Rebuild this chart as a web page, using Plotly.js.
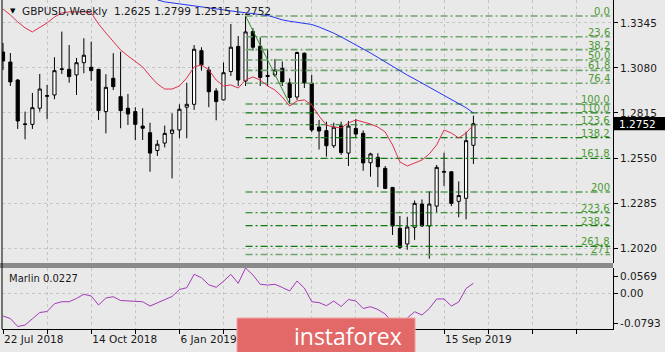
<!DOCTYPE html>
<html><head><meta charset="utf-8">
<script src="https://cdn.plot.ly/plotly-3.0.1.min.js"></script>
<style>html,body{margin:0;padding:0;background:#e9e9e9;overflow:hidden}#chart{width:665px;height:352px}</style>
</head><body><div id="chart"></div>
<script>
// ---------- data ----------
const symbolTitle = "GBPUSD,Weekly";
const open  = [1.3174,1.3115,1.3009,1.2747,1.2748,1.2843,1.2913,1.2921,1.3071,1.3072,1.3039,1.3111,1.3084,1.3072,1.2823,1.3019,1.2911,1.2843,1.2823,1.2738,1.2699,1.2594,1.2638,1.2695,1.2715,1.2849,1.2866,1.3182,1.3068,1.2945,1.2892,1.3059,1.3207,1.3003,1.3294,1.3208,1.3036,1.3039,1.3078,1.2992,1.2909,1.3167,1.2990,1.2732,1.2711,1.2622,1.2739,1.2579,1.2724,1.2695,1.2522,1.2554,1.2489,1.2377,1.2136,1.2044,1.2142,1.2279,1.2150,1.2267,1.2471,1.2469,1.2295,1.2313,1.2625];
const high  = [1.3227,1.3168,1.3015,1.2823,1.2933,1.3045,1.2980,1.3143,1.3294,1.3215,1.3139,1.3255,1.3235,1.3074,1.3043,1.3167,1.3176,1.2927,1.2849,1.2843,1.2758,1.2656,1.2741,1.2813,1.2866,1.2993,1.3215,1.3202,1.3088,1.2961,1.3112,1.3339,1.3268,1.3386,1.3314,1.3260,1.3192,1.3133,1.3118,1.3019,1.3176,1.3170,1.3039,1.2774,1.2764,1.2758,1.2764,1.2768,1.2780,1.2712,1.2581,1.2578,1.2503,1.2379,1.2209,1.2204,1.2300,1.2306,1.2354,1.2509,1.2581,1.2470,1.2412,1.2705,1.2799];
const low   = [1.3068,1.2974,1.2721,1.2660,1.2721,1.2823,1.2778,1.2896,1.3045,1.2993,1.2921,1.3049,1.3005,1.2774,1.2695,1.2950,1.2725,1.2744,1.2656,1.2656,1.2469,1.2562,1.2612,1.2430,1.2666,1.2666,1.2833,1.3064,1.2849,1.2772,1.2889,1.3033,1.2974,1.2974,1.3182,1.2974,1.2974,1.3027,1.2974,1.2868,1.2892,1.2962,1.2703,1.2600,1.2558,1.2609,1.2568,1.2503,1.2668,1.2475,1.2440,1.2379,1.2367,1.2097,1.2014,1.2010,1.2068,1.2144,1.1958,1.2232,1.2385,1.2267,1.2201,1.2189,1.2515];
const close = [1.3121,1.2998,1.2768,1.2750,1.2846,1.2956,1.2917,1.3064,1.3074,1.3029,1.3111,1.3155,1.3064,1.2829,1.2966,1.2970,1.2829,1.2809,1.2748,1.2725,1.2579,1.2631,1.2695,1.2715,1.2837,1.2866,1.3190,1.3098,1.2940,1.2882,1.3052,1.3202,1.3009,1.3292,1.3202,1.3024,1.3030,1.3068,1.2998,1.2906,1.3171,1.2992,1.2715,1.2709,1.2622,1.2731,1.2582,1.2738,1.2691,1.2521,1.2574,1.2499,1.2371,1.2150,1.2023,1.2144,1.2283,1.2150,1.2279,1.2495,1.2467,1.2283,1.2329,1.2652,1.2752];
const maRed = [1.3427,1.3392,1.3351,1.3316,1.3292,1.3316,1.3345,1.3380,1.3404,1.3410,1.3410,1.3410,1.3404,1.3339,1.3286,1.3233,1.3186,1.3151,1.3121,1.3086,1.3033,1.2986,1.2956,1.2956,1.2974,1.3021,1.3086,1.3098,1.3068,1.3009,1.2974,1.2980,1.2962,1.3009,1.3027,1.3009,1.2974,1.2950,1.2909,1.2856,1.2886,1.2892,1.2862,1.2797,1.2744,1.2732,1.2727,1.2756,1.2774,1.2762,1.2750,1.2732,1.2703,1.2627,1.2527,1.2503,1.2521,1.2538,1.2574,1.2627,1.2715,1.2697,1.2668,1.2697,1.2744];
const maBlue = [null,null,null,null,null,null,null,null,null,null,null,null,null,null,null,null,null,null,null,null,null,1.3481,1.3469,1.3463,1.3457,1.3449,1.3442,1.3436,1.3430,1.3426,1.3422,1.3416,1.3410,1.3405,1.3401,1.3396,1.3389,1.3377,1.3363,1.3355,1.3348,1.3342,1.3336,1.3321,1.3304,1.3285,1.3263,1.3240,1.3215,1.3192,1.3168,1.3142,1.3115,1.3088,1.3062,1.3038,1.3015,1.2991,1.2968,1.2944,1.2921,1.2898,1.2874,1.2846,1.2815];
const marlin = [-0.0503,-0.0559,-0.0737,-0.0704,-0.0565,-0.0425,-0.0402,-0.0230,-0.0184,-0.0184,-0.0110,-0.0018,-0.0056,-0.0257,-0.0101,-0.0072,-0.0157,-0.0168,-0.0172,-0.0184,-0.0280,-0.0206,-0.0123,-0.0067,0.0089,0.0129,0.0428,0.0352,0.0194,0.0138,0.0272,0.0428,0.0227,0.0569,0.0413,0.0205,0.0189,0.0205,0.0134,0.0055,0.0279,0.0122,-0.0184,-0.0204,-0.0273,-0.0168,-0.0291,-0.0134,-0.0168,-0.0335,-0.0295,-0.0358,-0.0458,-0.0659,-0.0793,-0.0548,-0.0407,-0.0481,-0.0335,-0.0123,-0.0123,-0.0280,-0.0190,0.0111,0.0227];
const fibHigh = 1.3386, fibLow = 1.2868;           // anchors: swing high (week 33) -> swing low (week 39)
const fibFromIndex = 33, fibToIndex = 39;
const fibLevels = [0,23.6,38.2,50,61.8,76.4,100,110,123.6,138.2,161.8,200,223.6,238.2,261.8,271];
const fibLabels = ["0.0","23.6","38.2","50.0","61.8","76.4","100.0","110.0","123.6","138.2","161.8","200","223.6","238.2","261.8","271"];
const priceTicks = [1.2020,1.2285,1.2550,1.2815,1.3080,1.3345];
const dateTickIndex = [0,12,24,60];
const dateTickText = ["22 Jul 2018","14 Oct 2018","6 Jan 2019","15 Sep 2019"];
const marlinTicksText = ["0.0569","0.00","-0.0793"];

// ---------- build ----------
const idx = close.map((_, i) => i);
const last = close.length - 1;
const FONT = "DejaVu Sans, Verdana, sans-serif";
const lightFib = "#6fa56f", darkFib = "#107a10";

const traces = [];
fibLevels.forEach((lv, k) => {
  const p = fibHigh - (fibHigh - fibLow) * lv / 100;
  const light = lv < 100 || lv === 271;
  traces.push({type:"scatter", mode:"lines", x:[fibFromIndex, 82.6], y:[p, p],
    line:{color: light ? lightFib : darkFib, width: light ? 1.6 : 1.2, dash:"7px,3px,2px,3px"},
    hoverinfo:"skip", xaxis:"x", yaxis:"y"});
});
traces.push({type:"scatter", mode:"lines", x:[fibFromIndex, fibToIndex], y:[fibHigh, fibLow],
  line:{color:"#2f8f2f", width:1}, hoverinfo:"skip", xaxis:"x", yaxis:"y"});
traces.push({type:"candlestick", x:idx, open:open, high:high, low:low, close:close,
  increasing:{line:{color:"#000000", width:1}, fillcolor:"#ffffff"},
  decreasing:{line:{color:"#000000", width:1}, fillcolor:"#000000"},
  whiskerwidth:0, hoverinfo:"skip", xaxis:"x", yaxis:"y"});
traces.push({type:"scatter", mode:"lines", x:idx, y:maRed, line:{color:"#e0304e", width:1}, hoverinfo:"skip", xaxis:"x", yaxis:"y"});
traces.push({type:"scatter", mode:"lines", x:idx, y:maBlue, line:{color:"#2436f0", width:1}, hoverinfo:"skip", xaxis:"x", yaxis:"y", connectgaps:false});
traces.push({type:"scatter", mode:"lines", x:idx, y:marlin, line:{color:"#a23ab8", width:1}, hoverinfo:"skip", xaxis:"x", yaxis:"y2"});

const gridIdx = [], gridText = [];
for (let i = 0; i <= 78; i += 6) { gridIdx.push(i); const j = dateTickIndex.indexOf(i); gridText.push(j >= 0 ? dateTickText[j] : ""); }

const mainRange = [1.1932, 1.3480];
const mRange = [-0.0793, 0.0569];
const mPx = (mRange[1]-mRange[0]) / 61;
const marlinTickVals = [mRange[1] - 8.7*mPx, 0, mRange[1] - 55.3*mPx];

const annotations = [];
annotations.push({xref:"paper", yref:"paper", x:0.0295, y:0.9666, xanchor:"left", yanchor:"middle", showarrow:false,
  text: symbolTitle + "  " + [open[last], high[last], low[last], close[last]].map(v => v.toFixed(4)).join(" "),
  font:{family:FONT, size:10.5, color:"#1a1a1a"}});
annotations.push({xref:"paper", yref:"paper", x:0.0105, y:0.9666, xanchor:"left", yanchor:"middle", showarrow:false,
  text:"▼", font:{family:FONT, size:7, color:"#000"}});
fibLevels.forEach((lv, k) => {
  const p = fibHigh - (fibHigh - fibLow) * lv / 100;
  annotations.push({xref:"x", yref:"y", x:82.75, y:p, xanchor:"right", yanchor:"bottom", yshift:-2, borderpad:0, showarrow:false,
    text:fibLabels[k], font:{family:FONT, size:10, color:"#4c9a34"}});
});
annotations.push({xref:"paper", yref:"y", x:1.0065, y:close[last], xanchor:"left", yanchor:"middle", showarrow:false,
  text:close[last].toFixed(4), font:{family:FONT, size:10.5, color:"#ffffff"}});
annotations.push({xref:"paper", yref:"paper", x:0.0082, y:0.152, xanchor:"left", yanchor:"middle", showarrow:false,
  text:"Marlin " + marlin[last].toFixed(4), font:{family:FONT, size:10, color:"#1a1a1a"}});
annotations.push({xref:"paper", yref:"paper", x:0.567, y:-0.02, xanchor:"center", yanchor:"middle", showarrow:false,
  text:"instaforex", font:{family:"Open Sans, Lato, sans-serif", size:23, color:"#ffffff"}});

const shapes = [
  {type:"rect", xref:"paper", yref:"paper", x0:-0.01, x1:1.0, y0:0.1854, y1:0.2006, fillcolor:"#8a8a8a", line:{width:0}, layer:"above"},
  {type:"line", xref:"paper", yref:"paper", x0:0, x1:0, y0:0, y1:1, line:{color:"#000", width:1}, layer:"above"},
  {type:"line", xref:"paper", yref:"y2", x0:0, x1:1, y0:0, y1:0, line:{color:"#c4c4c4", width:1, dash:"3px,3px"}, layer:"below"},
  {type:"rect", xref:"paper", yref:"y", x0:1.0016, x1:1.09, y0:close[last]-0.0039, y1:close[last]+0.0039, fillcolor:"#000", line:{width:0}, layer:"above"},
  {type:"rect", xref:"paper", yref:"paper", x0:0.3846, x1:0.676, y0:0.0334, y1:-0.08, fillcolor:"#e36868", line:{color:"#f3a5a5", width:1}, layer:"above"}
];

const layout = {
  width:665, height:352, margin:{l:2, r:52, t:0, b:23},
  paper_bgcolor:"#e9e9e9", plot_bgcolor:"#e9e9e9", showlegend:false,
  font:{family:FONT, size:10, color:"#1a1a1a"},
  boxgap:0.38,
  xaxis:{range:[-0.136, 82.99], anchor:"y2", tickvals:gridIdx, ticktext:gridText, ticks:"outside", ticklen:4, tickcolor:"#000",
    showgrid:true, gridcolor:"#c6c6c6", griddash:"3px,3px", gridwidth:1, showline:true, linecolor:"#000", linewidth:1,
    zeroline:false, ticklabelposition:"outside right", rangeslider:{visible:false}, fixedrange:true,
    tickfont:{family:FONT, size:10.5, color:"#1a1a1a"}},
  yaxis:{domain:[0.2006, 1], range:mainRange, side:"right", tickvals:priceTicks, ticktext:priceTicks.map(v => v.toFixed(4)),
    showgrid:true, gridcolor:"#c6c6c6", griddash:"3px,3px", ticks:"outside", ticklen:4, tickcolor:"#000",
    showline:true, linecolor:"#000", zeroline:false, fixedrange:true, tickfont:{family:FONT, size:10.5, color:"#1a1a1a"}},
  yaxis2:{domain:[0, 0.1854], range:mRange, side:"right", tickvals:marlinTickVals, ticktext:marlinTicksText,
    showgrid:false, ticks:"outside", ticklen:4, tickcolor:"#000", showline:true, linecolor:"#000", zeroline:false, fixedrange:true,
    tickfont:{family:FONT, size:10.5, color:"#1a1a1a"}},
  shapes:shapes, annotations:annotations
};
Plotly.newPlot("chart", traces, layout, {staticPlot:true, displayModeBar:false});
</script></body></html>
